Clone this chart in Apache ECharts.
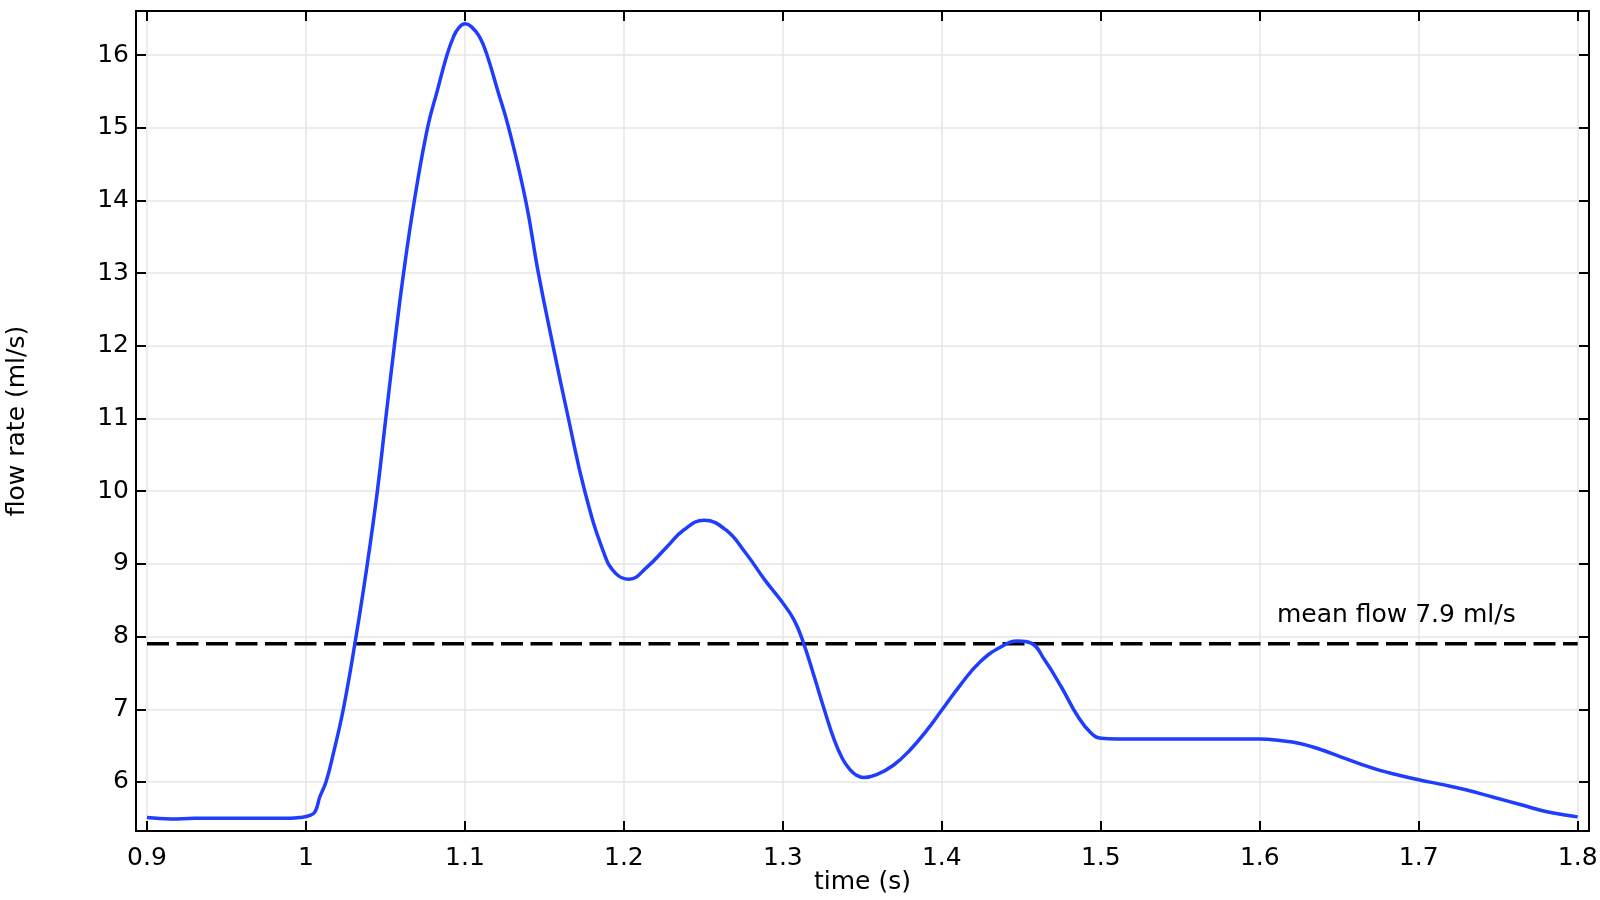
<!DOCTYPE html>
<html>
<head>
<meta charset="utf-8">
<script src="https://cdn.jsdelivr.net/npm/echarts@6/dist/echarts.min.js"></script>
<style>
  html, body { margin: 0; padding: 0; background: #fff; }
  #chart { width: 1600px; height: 900px; }
</style>
</head>
<body>
<div id="chart"></div>
<script>
// ---- data ----
const timeValues = [
  0.900, 0.915, 0.930, 0.950, 0.970, 0.990, 0.996, 1.0025, 1.0057, 1.0088,
  1.0126, 1.0172, 1.0235, 1.0315, 1.0386, 1.0449, 1.0502, 1.0556, 1.0614, 1.0682,
  1.0765, 1.0825, 1.0887, 1.0928, 1.096, 1.100, 1.104, 1.1092, 1.1139, 1.1205, 1.1275, 1.1382,
  1.1462, 1.1554, 1.1651, 1.1754, 1.1874, 1.1948, 1.2032, 1.2147, 1.2273,
  1.2378, 1.2504, 1.264, 1.2766, 1.2886, 1.2987, 1.307, 1.313, 1.3197, 1.326,
  1.3323, 1.3375, 1.3422, 1.3465, 1.3506, 1.359, 1.3695, 1.38, 1.3905, 1.400,
  1.4115, 1.424, 1.4373, 1.4478, 1.4562, 1.4646, 1.4751, 1.4856, 1.494, 1.5003,
  1.51, 1.55, 1.60, 1.6126, 1.6252, 1.6378, 1.6504, 1.663, 1.6756, 1.6882,
  1.70, 1.7134, 1.7302, 1.747, 1.7638, 1.7806, 1.791, 1.80
];
const flowValues = [
  5.51, 5.49, 5.50, 5.50, 5.50, 5.50, 5.51, 5.54, 5.59, 5.80,
  6.00, 6.39, 7.00, 8.00, 9.00, 10.00, 11.00, 12.00, 13.00, 14.00,
  15.00, 15.50, 16.00, 16.25, 16.37, 16.43, 16.39, 16.25, 16.00, 15.52, 15.00, 14.00,
  13.00, 12.00, 11.00, 10.00, 9.15, 8.87, 8.79, 8.96, 9.24,
  9.47, 9.60, 9.47, 9.15, 8.78, 8.50, 8.23, 7.91, 7.45, 7.00,
  6.58, 6.32, 6.17, 6.09, 6.06, 6.10, 6.23, 6.44, 6.71, 6.99,
  7.33, 7.65, 7.86, 7.94, 7.91, 7.68, 7.31, 6.90, 6.67, 6.60,
  6.59, 6.59, 6.59, 6.57, 6.53, 6.45, 6.35, 6.25, 6.16, 6.09,
  6.03, 5.97, 5.89, 5.79, 5.69, 5.59, 5.55, 5.52
];
const meanFlow = 7.9;
const meanTimes = [0.9, 1.8];
const meanLabel = 'mean flow 7.9 ml/s';
const meanLabelPos = [1.6108, 8.285];
const xTicks = [0.9, 1.0, 1.1, 1.2, 1.3, 1.4, 1.5, 1.6, 1.7, 1.8];
const yTicks = [6, 7, 8, 9, 10, 11, 12, 13, 14, 15, 16];
const xRange = [0.89308, 1.80711];
const yRange = [5.3257, 16.6055];
const xName = 'time (s)';
const yName = 'flow rate (ml/s)';

// ---- chart ----
const FONT = 'DejaVu Sans';
const chart = echarts.init(document.getElementById('chart'), null, { renderer: 'canvas' });

function xAxisDef(pos, withLabels) {
  return {
    type: 'value', position: pos, min: xRange[0], max: xRange[1],
    name: withLabels ? xName : '', nameLocation: 'middle', nameGap: 39, nameMoveOverlap: false,
    nameTextStyle: { fontFamily: FONT, fontSize: 25, color: '#000' },
    axisLine: { show: true, onZero: false, lineStyle: { color: '#000', width: 2 } },
    axisTick: { show: true, inside: true, length: 10, customValues: xTicks, lineStyle: { color: '#000', width: 2 } },
    axisLabel: { show: withLabels, customValues: xTicks, margin: 15, fontFamily: FONT, fontSize: 25, color: '#000',
      formatter: v => String(Math.round(v * 10) / 10) },
    splitLine: { show: withLabels, lineStyle: { color: '#e6e6e6', width: 1.5 } }
  };
}
function yAxisDef(pos, withLabels) {
  return {
    type: 'value', position: pos, min: yRange[0], max: yRange[1],
    name: withLabels ? yName : '', nameLocation: 'middle', nameGap: 106, nameMoveOverlap: false,
    nameTextStyle: { fontFamily: FONT, fontSize: 25, color: '#000' },
    axisLine: { show: true, onZero: false, lineStyle: { color: '#000', width: 2 } },
    axisTick: { show: true, inside: true, length: 10, customValues: yTicks, lineStyle: { color: '#000', width: 2 } },
    axisLabel: { show: withLabels, customValues: yTicks, margin: 7, fontFamily: FONT, fontSize: 25, color: '#000',
      formatter: v => String(Math.round(v)) },
    splitLine: { show: withLabels, lineStyle: { color: '#e6e6e6', width: 1.5 } }
  };
}

const option = {
  animation: false,
  backgroundColor: '#fff',
  grid: { left: 136, right: 11, top: 11, bottom: 69, containLabel: false, outerBoundsMode: 'none' },
  xAxis: [xAxisDef('bottom', true), xAxisDef('top', false)],
  yAxis: [yAxisDef('left', true), yAxisDef('right', false)],
  series: [
    {
      type: 'line', name: 'mean',
      data: meanTimes.map(t => [t, meanFlow]),
      symbol: 'none',
      lineStyle: { color: '#000', width: 3.5, type: [22, 7.5] },
      z: 3,
      markPoint: {
        symbol: 'circle', symbolSize: 0,
        data: [{ coord: meanLabelPos }],
        label: { show: true, position: 'right', distance: 0, formatter: meanLabel,
          fontFamily: FONT, fontSize: 25, color: '#000' }
      }
    },
    {
      type: 'line', name: 'flow',
      data: timeValues.map((t, i) => [t, flowValues[i]]),
      symbol: 'none', smooth: 0.45,
      lineStyle: { color: '#1f3dff', width: 3.5 },
      z: 4
    }
  ]
};
chart.setOption(option);
</script>
</body>
</html>
